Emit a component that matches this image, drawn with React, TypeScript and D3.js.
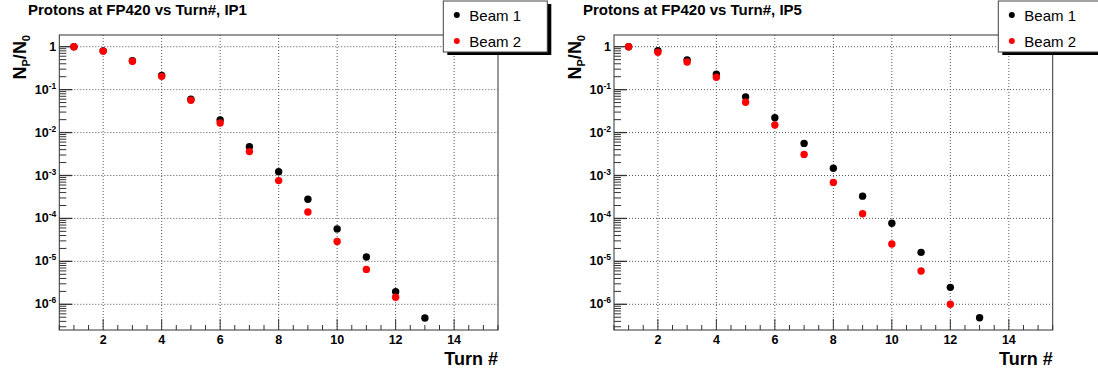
import React from "react";
import * as d3 from "d3";

const turnsBeam1 = [1, 2, 3, 4, 5, 6, 7, 8, 9, 10, 11, 12, 13];
const turnsBeam2 = [1, 2, 3, 4, 5, 6, 7, 8, 9, 10, 11, 12];

const ip1Beam1 = [1.0, 0.8, 0.47, 0.215, 0.06, 0.0196, 0.0047, 0.00123, 2.8e-4, 5.7e-5, 1.26e-5, 1.96e-6, 4.8e-7];
const ip1Beam2 = [1.0, 0.79, 0.46, 0.204, 0.0565, 0.0167, 0.0036, 7.6e-4, 1.41e-4, 2.9e-5, 6.5e-6, 1.46e-6];
const ip5Beam1 = [1.0, 0.81, 0.49, 0.228, 0.068, 0.0222, 0.0056, 0.00147, 3.3e-4, 7.7e-5, 1.62e-5, 2.48e-6, 4.86e-7];
const ip5Beam2 = [1.0, 0.74, 0.44, 0.194, 0.0507, 0.015, 0.0031, 6.9e-4, 1.29e-4, 2.54e-5, 5.96e-6, 1.0e-6];

const titles = ["Protons at FP420 vs Turn#, IP1", "Protons at FP420 vs Turn#, IP5"];
const legendLabels = ["Beam 1", "Beam 2"];
const xMajorTicks = [2, 4, 6, 8, 10, 12, 14];
const yDecades = [0, -1, -2, -3, -4, -5, -6];

const FONT = "'Liberation Sans', Arial, Helvetica, sans-serif";

type PanelProps = {
  left: number;
  right: number;
  title: string;
  titleX: number;
  b1: number[];
  b2: number[];
  legendX: number;
  legendW: number;
};

function Panel({ left, right, title, titleX, b1, b2, legendX, legendW }: PanelProps) {
  const top = 35;
  const bottom = 330;
  const x = d3.scaleLinear().domain([0.5, 15.5]).range([left, right]);
  const y = d3.scaleLog().domain([1.873, 2.52e-7]).range([top, bottom]);

  const xMinor = d3.range(0.5, 15.51, 0.5).filter((v) => !xMajorTicks.includes(v));
  const yMinor: number[] = [];
  for (let e = -7; e <= 0; e++) {
    for (let m = 2; m <= 9; m++) {
      const v = m * Math.pow(10, e);
      if (v > 2.52e-7 && v < 1.873) yMinor.push(v);
    }
  }
  const axisColor = "#333";
  const gridColor = "#555";

  return (
    <g>
      <text x={titleX} y={15} fontFamily={FONT} fontWeight="bold" fontSize={15} fill="#000">
        {title}
      </text>
      {xMajorTicks.map((t) => (
        <line key={"gx" + t} x1={x(t)} x2={x(t)} y1={top} y2={bottom} stroke={gridColor} strokeWidth={1} strokeDasharray="1 2" />
      ))}
      {yDecades.map((e) => (
        <line key={"gy" + e} x1={left} x2={right} y1={y(Math.pow(10, e))} y2={y(Math.pow(10, e))} stroke={gridColor} strokeWidth={1} strokeDasharray="1 2" />
      ))}
      <rect x={left} y={top} width={right - left} height={bottom - top} fill="none" stroke={axisColor} strokeWidth={1} />
      {xMajorTicks.map((t) => (
        <line key={"xt" + t} x1={x(t)} x2={x(t)} y1={bottom} y2={bottom - 11} stroke={axisColor} strokeWidth={1} />
      ))}
      {xMinor.map((t) => (
        <line key={"xm" + t} x1={x(t)} x2={x(t)} y1={bottom} y2={bottom - 5} stroke={axisColor} strokeWidth={1} />
      ))}
      {xMajorTicks.map((t) => (
        <text key={"xl" + t} x={x(t)} y={344} textAnchor="middle" fontFamily={FONT} fontWeight="bold" fontSize={12.5}>
          {t}
        </text>
      ))}
      <text x={right} y={365} textAnchor="end" fontFamily={FONT} fontWeight="bold" fontSize={18}>
        Turn #
      </text>
      {yDecades.map((e) => (
        <line key={"yt" + e} x1={left} x2={left + 13} y1={y(Math.pow(10, e))} y2={y(Math.pow(10, e))} stroke={axisColor} strokeWidth={1.3} />
      ))}
      {yMinor.map((v, i) => (
        <line key={"ym" + i} x1={left} x2={left + 7} y1={y(v)} y2={y(v)} stroke={axisColor} strokeWidth={1} />
      ))}
      {yDecades.map((e) => (
        <text key={"yl" + e} x={left - 3} y={y(Math.pow(10, e)) + 4} textAnchor="end" fontFamily={FONT} fontWeight="bold" fontSize={12.5}>
          {e === 0 ? (
            "1"
          ) : (
            <>
              10
              <tspan dy={-5} fontSize={8.5}>{String(e)}</tspan>
            </>
          )}
        </text>
      ))}
      <text transform={`translate(${left - 33},${top}) rotate(-90)`} textAnchor="end" fontFamily={FONT} fontWeight="bold" fontSize={18}>
        N<tspan dy={4} fontSize={11}>P</tspan>
        <tspan dy={-4}>/N</tspan>
        <tspan dy={4} fontSize={11}>0</tspan>
      </text>
      {b1.map((v, i) => (
        <circle key={"b1" + i} cx={x(turnsBeam1[i])} cy={y(v)} r={3.7} fill="#000" />
      ))}
      {b2.map((v, i) => (
        <circle key={"b2" + i} cx={x(turnsBeam2[i])} cy={y(v)} r={3.7} fill="#ff0000" />
      ))}
      <rect x={legendX + 4} y={4} width={legendW} height={51} fill="#000" />
      <rect x={legendX} y={1} width={legendW} height={51} fill="#fff" stroke="#444" strokeWidth={1} />
      {legendLabels.map((lab, i) => (
        <g key={lab}>
          <circle cx={legendX + 13.5} cy={15 + i * 26} r={3} fill={i === 0 ? "#000" : "#ff0000"} />
          <text x={legendX + 26} y={20.5 + i * 26} fontFamily={FONT} fontSize={15}>
            {lab}
          </text>
        </g>
      ))}
    </g>
  );
}

export default function App() {
  return (
    <svg width={1098} height={374} style={{ position: "absolute", left: 0, top: 0, background: "#fff" }}>
      <rect x={0} y={0} width={1098} height={374} fill="#fff" />
      <Panel left={59.3} right={498} title={titles[0]} titleX={28} b1={ip1Beam1} b2={ip1Beam2} legendX={443.3} legendW={104} />
      <Panel left={614} right={1052.7} title={titles[1]} titleX={583} b1={ip5Beam1} b2={ip5Beam2} legendX={998.3} legendW={104} />
    </svg>
  );
}
